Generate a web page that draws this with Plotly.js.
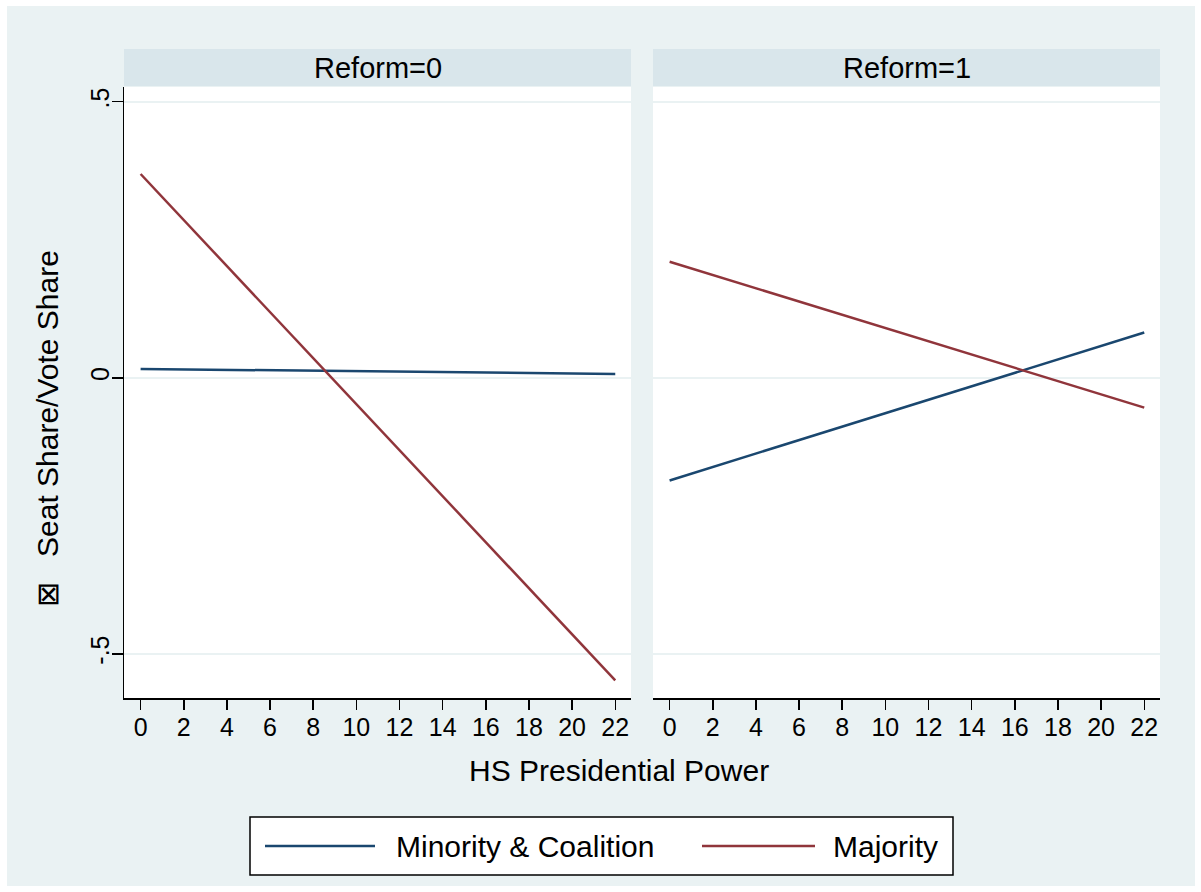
<!DOCTYPE html>
<html>
<head>
<meta charset="utf-8">
<script src="https://cdn.plot.ly/plotly-3.0.1.min.js"></script>
<style>
  html, body { margin: 0; padding: 0; background: #ffffff; }
  #chart { width: 1201px; height: 892px; }
</style>
</head>
<body>
<div id="chart"></div>
<script>
// ---- data ----
const panelTitles = ["Reform=0", "Reform=1"];
const seriesNames = ["Minority & Coalition", "Majority"];
const hsPower = [0, 22];
const minorityReform0 = [0.016, 0.007];
const majorityReform0 = [0.369, -0.548];
const minorityReform1 = [-0.186, 0.082];
const majorityReform1 = [0.210, -0.054];
const xTickVals = [0, 2, 4, 6, 8, 10, 12, 14, 16, 18, 20, 22];
const yTickVals = [-0.5, 0, 0.5];
const yTickText = ["-.5", "0", ".5"];
const xTitle = "HS Presidential Power";
const yTitle = "\u22A0   Seat Share/Vote Share";

// ---- styling ----
const NAVY = "#1A476F";
const MAROON = "#90353B";
const BG = "#EAF2F3";
const STRIP = "#D9E6EB";
const FONT = "Liberation Sans, Arial, sans-serif";

// pixel -> paper helpers (plot area: x 124..1160, y 87..698)
const L = 124, R = 1160, T = 87, B = 698;
const px = v => (v - L) / (R - L);
const py = v => (B - v) / (B - T);

const traces = [
  {x: hsPower, y: minorityReform0, xaxis: "x", yaxis: "y", name: seriesNames[0],
   mode: "lines", line: {color: NAVY, width: 2.5}},
  {x: hsPower, y: majorityReform0, xaxis: "x", yaxis: "y", name: seriesNames[1],
   mode: "lines", line: {color: MAROON, width: 2.5}},
  {x: hsPower, y: minorityReform1, xaxis: "x2", yaxis: "y2", name: seriesNames[0],
   mode: "lines", line: {color: NAVY, width: 2.5}},
  {x: hsPower, y: majorityReform1, xaxis: "x2", yaxis: "y2", name: seriesNames[1],
   mode: "lines", line: {color: MAROON, width: 2.5}}
];

const xRange = [-0.77, 22.73];
const yRange = [-0.58, 0.5266];

const xCommon = {
  range: xRange, tickvals: xTickVals, ticktext: xTickVals.map(String),
  ticks: "outside", ticklen: 10, tickwidth: 1.5, tickcolor: "#000",
  showline: true, linecolor: "#000", linewidth: 1.5,
  showgrid: false, zeroline: false, ticklabelstandoff: -4,
  tickfont: {family: FONT, size: 25, color: "#000"},
  fixedrange: true
};
const yCommon = {
  range: yRange, tickvals: yTickVals, ticktext: yTickText,
  showgrid: true, gridcolor: BG, gridwidth: 2, zeroline: false,
  fixedrange: true
};

const shapes = [
  // outer background (thin white border around it)
  {type: "rect", xref: "paper", yref: "paper", layer: "below",
   x0: px(7), x1: px(1195), y0: py(6), y1: py(886),
   fillcolor: BG, line: {width: 0}},
  // panel backgrounds
  {type: "rect", xref: "x domain", yref: "paper", layer: "below",
   x0: 0, x1: 1, y0: 0, y1: 1, fillcolor: "#ffffff", line: {width: 0}},
  {type: "rect", xref: "x2 domain", yref: "paper", layer: "below",
   x0: 0, x1: 1, y0: 0, y1: 1, fillcolor: "#ffffff", line: {width: 0}},
  // strips
  {type: "rect", xref: "x domain", yref: "paper", layer: "below",
   x0: 0, x1: 1, y0: py(86), y1: py(49), fillcolor: STRIP, line: {width: 0}},
  {type: "rect", xref: "x2 domain", yref: "paper", layer: "below",
   x0: 0, x1: 1, y0: py(86), y1: py(49), fillcolor: STRIP, line: {width: 0}},
  // legend box
  {type: "rect", xref: "paper", yref: "paper",
   x0: px(250), x1: px(953), y0: py(875), y1: py(817),
   fillcolor: "#ffffff", line: {color: "#000", width: 1.5}},
  {type: "line", xref: "paper", yref: "paper",
   x0: px(265), x1: px(375), y0: py(846), y1: py(846),
   line: {color: NAVY, width: 2.5}},
  {type: "line", xref: "paper", yref: "paper",
   x0: px(702), x1: px(815), y0: py(846), y1: py(846),
   line: {color: MAROON, width: 2.5}}
];

const annotations = [
  {text: panelTitles[0], xref: "x domain", yref: "paper", x: 0.5, y: py(67.5),
   xanchor: "center", yanchor: "middle", showarrow: false,
   font: {family: FONT, size: 29, color: "#000"}},
  {text: panelTitles[1], xref: "x2 domain", yref: "paper", x: 0.5, y: py(67.5),
   xanchor: "center", yanchor: "middle", showarrow: false,
   font: {family: FONT, size: 29, color: "#000"}},
  {text: xTitle, xref: "paper", yref: "paper", x: px(619), y: py(770),
   xanchor: "center", yanchor: "middle", showarrow: false,
   font: {family: FONT, size: 30, color: "#000"}},
  {text: yTitle, xref: "paper", yref: "paper", x: px(47), y: py(429),
   xanchor: "center", yanchor: "middle", showarrow: false, textangle: -90,
   font: {family: FONT, size: 30, color: "#000"}},
  {text: seriesNames[0], xref: "paper", yref: "paper", x: px(394), y: py(846),
   xanchor: "left", yanchor: "middle", showarrow: false,
   font: {family: FONT, size: 30, color: "#000"}},
  {text: seriesNames[1], xref: "paper", yref: "paper", x: px(831), y: py(846),
   xanchor: "left", yanchor: "middle", showarrow: false,
   font: {family: FONT, size: 30, color: "#000"}}
];

const layout = {
  width: 1201, height: 892,
  margin: {l: L, r: 1201 - R, t: T, b: 892 - B, pad: 0},
  paper_bgcolor: "#ffffff",
  plot_bgcolor: "rgba(0,0,0,0)",
  showlegend: false,
  font: {family: FONT, color: "#000"},
  xaxis: Object.assign({}, xCommon, {domain: [0, (631 - L) / (R - L)], anchor: "y"}),
  xaxis2: Object.assign({}, xCommon, {domain: [(653 - L) / (R - L), 1], anchor: "y2"}),
  yaxis: Object.assign({}, yCommon, {
    anchor: "x", showline: true, linecolor: "#000", linewidth: 1.5,
    ticks: "outside", ticklen: 11, tickwidth: 1.5, tickcolor: "#000",
    tickangle: -90, ticklabelstandoff: -7,
    tickfont: {family: FONT, size: 25, color: "#000"}
  }),
  yaxis2: Object.assign({}, yCommon, {
    anchor: "x2", matches: "y", showline: false, ticks: "", showticklabels: false
  }),
  shapes: shapes,
  annotations: annotations
};

Plotly.newPlot("chart", traces, layout, {displayModeBar: false, staticPlot: true});
</script>
</body>
</html>
